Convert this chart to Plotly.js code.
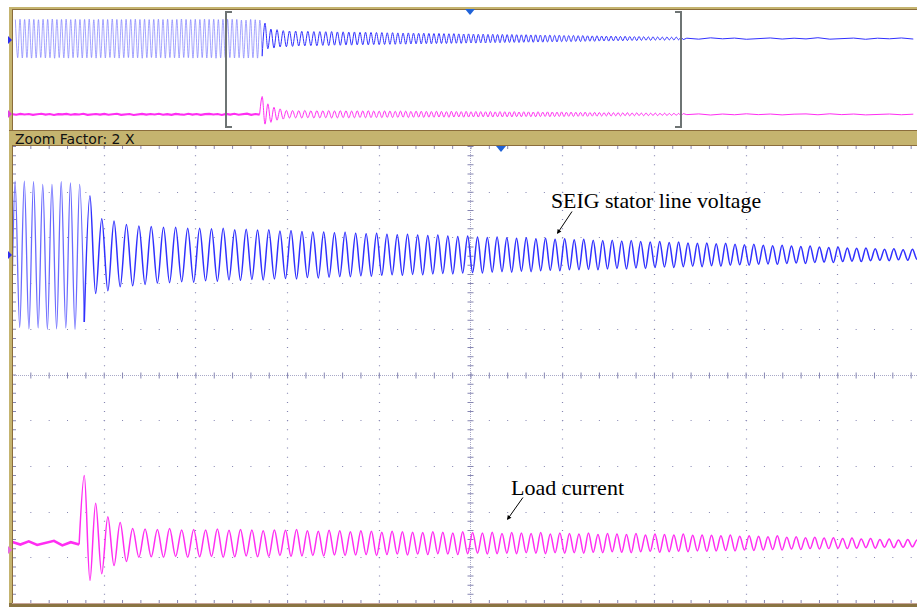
<!DOCTYPE html>
<html><head><meta charset="utf-8">
<script src="https://cdn.plot.ly/plotly-3.0.1.min.js"></script>
<style>html,body{margin:0;padding:0;background:#fff;}#chart{width:917px;height:607px;}</style>
</head><body><div id="chart"></div>
<script>
// ===== DATA (time in record divisions, amplitude in screen divisions) =====
const preStart = 0.037;          // time of first voltage peak
const prePeriod = 0.0503;        // period before load switching
const vMaxPre = [1.58,1.61,1.59,1.62,1.60,1.57,1.61,1.60,1.63,1.59,
  1.60,1.62,1.58,1.61,1.59,1.60,1.62,1.57,1.61,1.60,
  1.59,1.63,1.60,1.58,1.61,1.60,1.62,1.59,1.61,1.58,
  1.60,1.62,1.59,1.61,1.57,1.60,1.63,1.60,1.58,1.61,
  1.59,1.62,1.60,1.61,1.58,1.61,1.61,1.61,1.60,1.54,
  1.54,1.60,1.57,1.54];
const vMinPre = [-1.60,-1.62,-1.59,-1.63,-1.61,-1.58,-1.62,-1.60,-1.64,-1.59,
  -1.61,-1.63,-1.60,-1.58,-1.62,-1.61,-1.59,-1.63,-1.60,-1.62,
  -1.58,-1.61,-1.63,-1.60,-1.59,-1.62,-1.61,-1.64,-1.60,-1.58,
  -1.62,-1.60,-1.63,-1.59,-1.61,-1.62,-1.58,-1.60,-1.63,-1.61,
  -1.59,-1.62,-1.60,-1.64,-1.61,-1.58,-1.59,-1.62,-1.60,-1.63,
  -1.62,-1.60,-1.63,-1.47];
const postPeriods = [0.0622,0.0665,0.0671,0.0682,0.0676,0.0671,0.0665,0.0660,0.0654,0.0649,
  0.0643,0.0633,0.0627,0.0622,0.0616,0.0611,0.0605,0.0600,0.0594,0.0594,
  0.0589,0.0583,0.0578,0.0573,0.0573,0.0567,0.0562,0.0562,0.0556,0.0551,
  0.0551,0.0545,0.0545,0.0540,0.0540,0.0534,0.0534,0.0534,0.0529,0.0529,0.0529,0.0523,0.0523,0.0523,0.0523,
  0.0518,0.0518,0.0518,0.0518,0.0518,0.0518,0.0518,0.0518,0.0518,0.0518,
  0.0513,0.0513,0.0513,0.0513,0.0513,0.0513,0.0513,0.0513,0.0513,0.0513,0.0513,0.0513,0.0513,0.0513,
  0.0507,0.0507,0.0507,0.0507,0.0507,0.0507,0.0507,0.0507,0.0507,0.0507,0.0507,0.0507,0.0507,0.0507];
const vMaxPost = [1.29,0.79,0.74,0.66,0.63,0.62,0.60,0.60,0.58,0.58,
  0.57,0.58,0.55,0.56,0.54,0.55,0.52,0.53,0.51,0.50,
  0.50,0.48,0.49,0.47,0.46,0.47,0.45,0.44,0.45,0.43,
  0.42,0.43,0.41,0.40,0.41,0.39,0.38,0.39,0.37,0.36,0.37,0.35,0.36,0.34,0.35,
  0.33,0.34,0.32,0.31,0.32,0.30,0.31,0.29,0.28,0.29,
  0.27,0.28,0.26,0.25,0.26,0.24,0.25,0.23,0.22,0.23,
  0.21,0.20,0.21,0.19,0.18,0.19,0.17,0.16,0.17,0.15,
  0.14,0.15,0.13,0.12,0.13,0.11,0.12,0.10];
const vMinPost = [-0.85,-0.79,-0.70,-0.68,-0.65,-0.62,-0.61,-0.59,-0.60,-0.57,
  -0.58,-0.55,-0.56,-0.54,-0.55,-0.53,-0.52,-0.53,-0.50,-0.51,
  -0.49,-0.48,-0.48,-0.46,-0.47,-0.45,-0.44,-0.45,-0.43,-0.44,
  -0.42,-0.41,-0.42,-0.40,-0.39,-0.40,-0.38,-0.37,-0.38,-0.36,-0.37,-0.35,-0.34,-0.35,-0.33,
  -0.33,-0.32,-0.33,-0.31,-0.30,-0.31,-0.29,-0.30,-0.28,-0.27,
  -0.28,-0.26,-0.25,-0.26,-0.24,-0.25,-0.23,-0.22,-0.23,-0.21,
  -0.20,-0.21,-0.19,-0.18,-0.19,-0.17,-0.16,-0.17,-0.15,-0.14,
  -0.15,-0.13,-0.12,-0.13,-0.11,-0.12,-0.10,-0.09];
const iMaxPost = [1.49,0.88,0.59,0.46,0.33,
  0.32,0.31,0.33,0.30,0.31,
  0.30,0.32,0.29,0.31,0.30,0.28,0.30,0.29,0.31,0.28,
  0.27,0.29,0.28,0.26,0.28,0.27,0.25,0.27,0.26,0.25,
  0.24,0.26,0.25,0.23,0.26,0.24,0.23,0.25,0.22,0.24,0.23,0.22,0.24,0.21,0.23,
  0.22,0.21,0.23,0.20,0.22,0.21,0.20,0.22,0.19,0.21,
  0.20,0.19,0.21,0.18,0.19,0.18,0.17,0.19,0.16,0.17,
  0.16,0.15,0.17,0.14,0.15,0.13,0.14,0.12,0.13,0.11,
  0.12,0.10,0.11,0.09,0.10,0.08,0.09,0.08,0.07];
const iMinPost = [-0.81,-0.66,-0.48,-0.39,-0.30,
  -0.29,-0.30,-0.28,-0.30,-0.29,
  -0.28,-0.30,-0.29,-0.27,-0.29,-0.28,-0.26,-0.28,-0.27,-0.26,
  -0.27,-0.25,-0.26,-0.25,-0.24,-0.26,-0.24,-0.23,-0.25,-0.23,
  -0.24,-0.22,-0.23,-0.24,-0.22,-0.21,-0.23,-0.22,-0.21,-0.22,-0.20,-0.21,-0.22,-0.20,-0.21,
  -0.20,-0.21,-0.19,-0.20,-0.18,-0.19,-0.20,-0.18,-0.17,-0.19,
  -0.18,-0.17,-0.18,-0.16,-0.17,-0.16,-0.15,-0.16,-0.14,-0.15,
  -0.14,-0.13,-0.14,-0.12,-0.13,-0.11,-0.12,-0.11,-0.10,-0.11,
  -0.10,-0.09,-0.10,-0.08,-0.09,-0.08,-0.07,-0.08];
const iPreEnd = 2.70;
const iPreNoise = [0.02,-0.03,0.04,-0.01,0.03,-0.04,0.01,0.05,-0.02,0.03,
  -0.05,0.02,0.00,0.04,-0.03,0.02,-0.01,0.05,-0.04,0.01,
  0.03,-0.02,0.04,-0.03,0.00,0.05,-0.04,0.02,0.03,-0.05,
  0.01,0.04,-0.02,0.03,-0.01,0.05,-0.03,0.02,-0.04,0.04,
  0.00,-0.03,0.05,-0.02,0.03,-0.04,0.02,0.04,-0.01,0.03,
  -0.05,0.04,-0.02,0.05,-0.03,0.02,0.06,-0.04,0.03,-0.02];
const tailStep = 0.13;
const vTail = [0.03,-0.05,0.06,-0.02,0.04,-0.06,0.02,0.05,-0.04,0.03,-0.03,0.07,-0.05,0.02,0.04,-0.06,0.03,-0.02,0.05,-0.04];
const iTail = [-0.02,0.04,-0.05,0.03,-0.03,0.05,-0.02,0.03,-0.04,0.02,0.04,-0.03,0.05,-0.02,0.03,-0.04,0.02,0.03,-0.03,0.02];
const vOffset = 2.62, iOffset = -3.70;   // channel reference levels (div)

// ===== build waveforms =====
const tV=[], yV=[], tI=[], yI=[];
let t = preStart;
for (let k=0;k<vMaxPre.length;k++){
  tV.push(t); yV.push(vMaxPre[k]+vOffset); t += prePeriod/2;
  tV.push(t); yV.push(vMinPre[k]+vOffset); if (k<vMaxPre.length-1) t += prePeriod/2;
}
const T0 = t;
const nPre = tV.length;
const tIpre = iPreNoise.map((_,j)=>iPreEnd*j/(iPreNoise.length-1));
const yIpre = iPreNoise.map(v=>v+iOffset);
tI.push(tIpre[tIpre.length-1]); yI.push(yIpre[yIpre.length-1]);
tI.push(T0); yI.push(iMaxPost[0]+iOffset);
for (let k=0;k<postPeriods.length;k++){
  t += postPeriods[k]/2;
  tV.push(t); yV.push(vMaxPost[k]+vOffset); tI.push(t); yI.push(iMinPost[k]+iOffset);
  t += postPeriods[k]/2;
  tV.push(t); yV.push(vMinPost[k]+vOffset); tI.push(t); yI.push(iMaxPost[k+1]+iOffset);
}
const tTail=[t], yVt=[yV[yV.length-1]], yIt=[yI[yI.length-1]];
for (let j=0;j<vTail.length;j++){ tTail.push(t+tailStep*(j+0.3)); yVt.push(vTail[j]+vOffset); yIt.push(iTail[j]+iOffset); }
// split voltage at the switching instant (pre part drawn lighter on screen)
const tVpre=tV.slice(0,nPre), yVpre=yV.slice(0,nPre);
const tVpost=tV.slice(nPre-1), yVpost=yV.slice(nPre-1);

const BLUE='#3030ff', BLUEL='#6a6aff', PINK='#ff2ef2';
function mk(xa,ya,w,wPre,preCol){
  return [
    {x:tVpre,y:yVpre,xaxis:xa,yaxis:ya,mode:'lines',line:{color:preCol,width:wPre,shape:'spline',smoothing:1},hoverinfo:'skip'},
    {x:tVpost,y:yVpost,xaxis:xa,yaxis:ya,mode:'lines',line:{color:BLUE,width:w,shape:'spline',smoothing:1},hoverinfo:'skip'},
    {x:tTail,y:yVt,xaxis:xa,yaxis:ya,mode:'lines',line:{color:BLUE,width:w},hoverinfo:'skip'},
    {x:tIpre,y:yIpre,xaxis:xa,yaxis:ya,mode:'lines',line:{color:PINK,width:w+1.1},hoverinfo:'skip'},
    {x:tI,y:yI,xaxis:xa,yaxis:ya,mode:'lines',line:{color:PINK,width:w,shape:'spline',smoothing:1},hoverinfo:'skip'},
    {x:tTail,y:yIt,xaxis:xa,yaxis:ya,mode:'lines',line:{color:PINK,width:w},hoverinfo:'skip'}
  ];
}
const traces = mk('x','y',1.0,0.7,'#7c7cff').concat(mk('x2','y2',1.5,1.3,BLUEL));

// ===== layout helpers (pixel -> paper) =====
const W=917,H=607;
const X=p=>p/W, Y=p=>1-p/H;
const shapes=[];
function line(x0,y0,x1,y1,color,w,dash,layer){
  shapes.push({type:'line',xref:'paper',yref:'paper',x0:X(x0),y0:Y(y0),x1:X(x1),y1:Y(y1),
    line:{color:color,width:w,dash:dash||'solid'},layer:layer||'above'});
}
function rect(x0,y0,x1,y1,fill){
  shapes.push({type:'rect',xref:'paper',yref:'paper',x0:X(x0),y0:Y(y0),x1:X(x1),y1:Y(y1),
    fillcolor:fill,line:{width:0},layer:'above'});
}
function path(pts,fill){
  const d='M'+pts.map(p=>X(p[0])+','+Y(p[1])).join('L')+'Z';
  shapes.push({type:'path',xref:'paper',yref:'paper',path:d,fillcolor:fill,line:{width:0},layer:'above'});
}

// main graticule (10 x 10 divisions)
const gx0=12, gdx=91.7, gy0=146, gdy=45.7, gy1=603;
const DOT='#8686b2', CEN='#a9a9c8';
const vdash=(gdy/5-1).toFixed(2)+'px', hdash=(gdx/5-1).toFixed(2)+'px';
for (let k=1;k<10;k++){
  const x=Math.round(gx0+gdx*k)+0.5;
  if (k!==5) line(x,gy0,x,gy1,DOT,1.2,'1px,'+vdash,'below');
}
for (let k=1;k<10;k++){
  const y=Math.round(gy0+gdy*k)+0.5;
  if (k!==5) line(gx0,y,W,y,DOT,1.2,'1px,'+hdash,'below');
}
const cx=Math.round(gx0+gdx*5)-0.5, cy=Math.round(gy0+gdy*5)+0.5;
line(cx,gy0,cx,gy1,CEN,1,'1px,1px','below');
line(gx0,cy,W,cy,CEN,1,'1px,1px','below');
line(cx,gy0,cx,gy1,DOT,6,'1px,'+vdash,'below');
line(gx0,cy,W,cy,DOT,6,'1px,'+hdash,'below');
line(14.5,gy0,14.5,gy1,DOT,3,'1px,'+vdash,'below');
line(gx0,gy0+1.5,W,gy0+1.5,DOT,3,'1px,'+hdash,'below');
line(gx0,gy1-1.5,W,gy1-1.5,DOT,3,'1px,'+hdash,'below');

// frame
const TAN='#c5b46f', DARK='#8b6d3c';
rect(9,7,W,10,TAN); line(9,9.5,W,9.5,DARK,1);
rect(9,7,13,H,TAN); line(12.5,9,12.5,H,DARK,1);
rect(9,130,W,146,TAN); line(9,130.5,W,130.5,DARK,1); line(12,145.5,W,145.5,DARK,1);
rect(9,603,W,H,'#8a7442'); line(12,603.5,W,603.5,'#c9a79c',1);

// zoom window brackets
const BR='#6e7474';
shapes.push({type:'path',xref:'paper',yref:'paper',line:{color:BR,width:2},layer:'above',
  path:'M'+X(232)+','+Y(12)+'L'+X(226)+','+Y(12)+'L'+X(226)+','+Y(127)+'L'+X(232)+','+Y(127)});
shapes.push({type:'path',xref:'paper',yref:'paper',line:{color:BR,width:2},layer:'above',
  path:'M'+X(675)+','+Y(12)+'L'+X(681)+','+Y(12)+'L'+X(681)+','+Y(127)+'L'+X(675)+','+Y(127)});

// trigger and channel markers
const TRG='#1f62d8';
path([[465,9],[475,9],[470,15]],TRG);
path([[496,146],[506,146],[501,152]],TRG);
path([[8,36],[12,40],[8,44]],'#2d2df0');
path([[8,110],[12,114],[8,118]],'#e040e0');
path([[8,251],[12,255],[8,259]],'#2d2df0');
path([[8,546],[12,550],[8,554]],'#e86ce0');

const annotations=[
  {xref:'paper',yref:'paper',x:X(13),y:Y(138.5),xanchor:'left',yanchor:'middle',showarrow:false,
   text:'Zoom Factor: 2 X',font:{family:'DejaVu Sans',size:14,color:'#111'}},
  {xref:'paper',yref:'paper',x:X(549),y:Y(201),xanchor:'left',yanchor:'middle',showarrow:false,
   text:'SEIG stator line voltage',font:{family:'Liberation Serif',size:21.8,color:'#000'}},
  {xref:'paper',yref:'paper',x:X(509),y:Y(487),xanchor:'left',yanchor:'middle',showarrow:false,
   text:'Load current',font:{family:'Liberation Serif',size:22,color:'#000'}},
  {xref:'paper',yref:'paper',x:X(557),y:Y(234),ax:16,ay:-24,text:'',showarrow:true,
   arrowhead:2,arrowsize:0.9,arrowwidth:1,arrowcolor:'#000'},
  {xref:'paper',yref:'paper',x:X(507),y:Y(520),ax:17,ay:-24,text:'',showarrow:true,
   arrowhead:2,arrowsize:0.9,arrowwidth:1,arrowcolor:'#000'}
];

const layout={
  width:W,height:H,margin:{l:0,r:0,t:0,b:0,pad:0},
  paper_bgcolor:'#ffffff',plot_bgcolor:'rgba(0,0,0,0)',showlegend:false,
  xaxis:{domain:[X(12),1],range:[0,(W-12)/gdx],visible:false,fixedrange:true},
  yaxis:{domain:[Y(130),Y(10)],range:[-5,5],visible:false,fixedrange:true},
  xaxis2:{domain:[X(12),1],range:[2.334,2.334+(W-12)/(2*gdx)],visible:false,anchor:'y2',fixedrange:true},
  yaxis2:{domain:[Y(603),Y(146)],range:[-5,5],visible:false,anchor:'x2',fixedrange:true},
  shapes:shapes,annotations:annotations
};
Plotly.newPlot('chart',traces,layout,{staticPlot:true,displayModeBar:false});
</script></body></html>
